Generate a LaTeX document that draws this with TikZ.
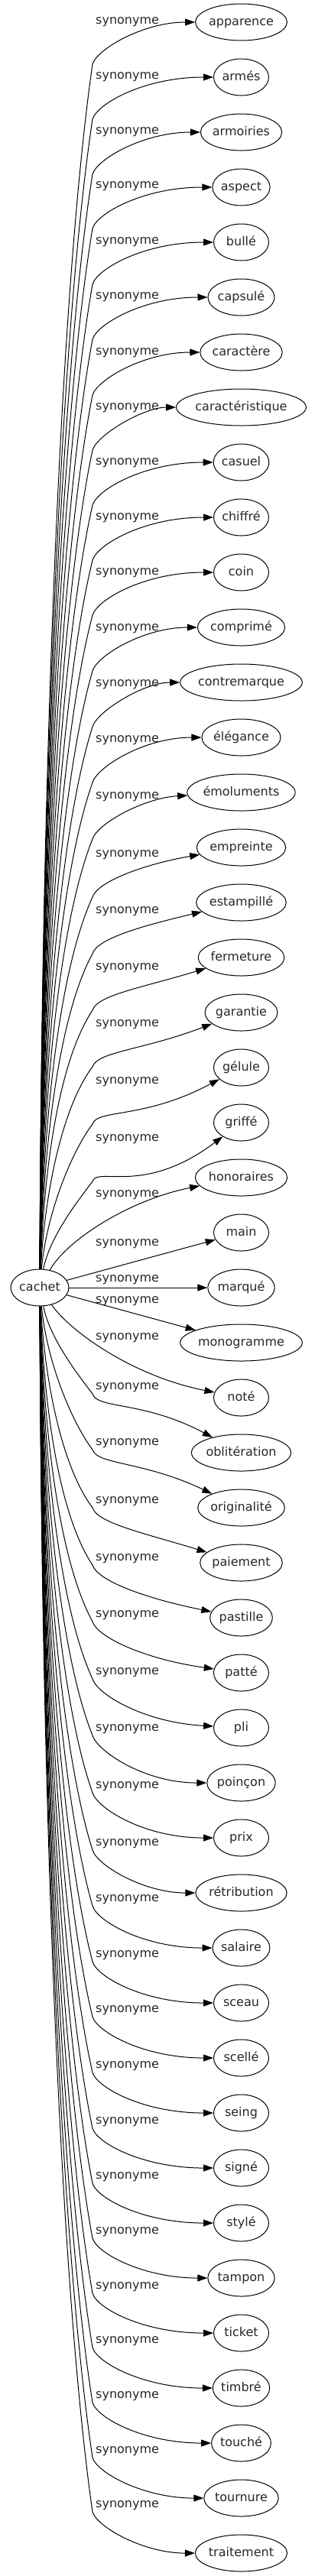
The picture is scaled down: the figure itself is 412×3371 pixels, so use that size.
\documentclass[tikz,border=0pt]{standalone}
\usepackage{fontspec}
\setmainfont{DejaVu Sans}
\usetikzlibrary{arrows.meta,shapes.geometric}
\definecolor{txt}{RGB}{40,40,40}
\newlength\mylen
\tikzset{
  tgt/.style={ellipse, draw=black, text=txt, line width=1pt, inner sep=0pt, minimum height=48pt,
    text height=12.3pt, text depth=3.7pt, font=\fontsize{16pt}{19pt}\selectfont},
  edge/.style={draw=black, line width=1pt, -{Triangle[length=13pt,width=9pt]}},
  lbl/.style={anchor=base west, inner sep=0pt, text=txt, font=\fontsize{16pt}{19pt}\selectfont},
}
\newcommand\mkT[4]{%
  \settowidth{\mylen}{\fontsize{16pt}{19pt}\selectfont #4}%
  \pgfmathsetmacro\myW{max(72,1.2*\mylen+33)}%
  \pgfmathsetmacro\myRx{\myW/2}%
  \expandafter\xdef\csname rx#1\endcsname{\myRx}%
  \node[tgt, minimum width=\myW pt] (#1) at (#2,#3) {#4};%
}
\newcommand\mkN[3]{%
  \pgfmathsetmacro\myYn{29+72*#2}%
  \mkT{#1}{315.5}{\myYn}{#3}%
}
\newcommand\mkTail[1]{%
  \edef\myRr{\csname rx#1\endcsname}%
  \pgfmathsetmacro\myXb{315.5-\myRr*sqrt(max(0,1-pow((\myTip-\myY)/24,2)))}%
  \pgfmathsetmacro\myF{(\myXb-188)/127.5}%
  \pgfmathsetmacro\myQy{(\myTip-\myF*\myY)/(1-\myF)}%
}
\newcommand\mkUp[3]{%
  \pgfmathsetmacro\myY{29+72*#2}%
  \pgfmathsetmacro\myCy{#3+56}%
  \pgfmathsetmacro\myD{1662-\myCy}%
  \pgfmathsetmacro\myPax{53+min(12,1500/\myD)}%
  \pgfmathsetmacro\myPay{1662-0.38*\myD}%
  \pgfmathsetmacro\myPbx{121-45*min(1,\myD/300)}%
  \pgfmathsetmacro\myPby{\myCy+0.2*\myD}%
  \pgfmathsetmacro\myTip{max(\myY,#3-3)}%
  \mkTail{#1}%
  \draw[edge] (cachet) .. controls (\myPax,\myPay) and (\myPbx,\myPby) .. (121,\myCy)
     .. controls (127,\myCy-20) and (188,\myQy) .. (#1);%
  \node[lbl] (l#1) at (125,#3+3) {synonyme};%
}
\newcommand\mkLo[3]{%
  \pgfmathsetmacro\myY{29+72*#2}%
  \pgfmathsetmacro\myCy{#3+9}%
  \pgfmathsetmacro\myD{\myCy-1708}%
  \pgfmathsetmacro\myPax{53+min(12,1500/\myD)}%
  \pgfmathsetmacro\myPay{1708+0.38*\myD}%
  \pgfmathsetmacro\myPbx{121-45*min(1,\myD/300)}%
  \pgfmathsetmacro\myPby{\myCy-0.2*\myD}%
  \pgfmathsetmacro\myTip{min(\myY,#3+71)}%
  \mkTail{#1}%
  \draw[edge] (cachet) .. controls (\myPax,\myPay) and (\myPbx,\myPby) .. (121,\myCy)
     .. controls (127,\myCy+20) and (188,\myQy) .. (#1);%
  \node[lbl] (l#1) at (125,#3+3) {synonyme};%
}
\begin{document}
\begin{tikzpicture}[x=1pt,y=-1pt]
\fill[white] (0,0) rectangle (412,3371);
\useasboundingbox (0,0) rectangle (412,3371);
\mkT{cachet}{52}{1685}{cachet}
\mkN{apparence}{0}{apparence}
\mkN{armes}{1}{armés}
\mkN{armoiries}{2}{armoiries}
\mkN{aspect}{3}{aspect}
\mkN{bulle}{4}{bullé}
\mkN{capsule}{5}{capsulé}
\mkN{caractere}{6}{caractère}
\mkN{caracteristique}{7}{caractéristique}
\mkN{casuel}{8}{casuel}
\mkN{chiffre}{9}{chiffré}
\mkN{coin}{10}{coin}
\mkN{comprime}{11}{comprimé}
\mkN{contremarque}{12}{contremarque}
\mkN{elegance}{13}{élégance}
\mkN{emoluments}{14}{émoluments}
\mkN{empreinte}{15}{empreinte}
\mkN{estampille}{16}{estampillé}
\mkN{fermeture}{17}{fermeture}
\mkN{garantie}{18}{garantie}
\mkN{gelule}{19}{gélule}
\mkN{griffe}{20}{griffé}
\mkN{honoraires}{21}{honoraires}
\mkN{main}{22}{main}
\mkN{marque}{23}{marqué}
\mkN{monogramme}{24}{monogramme}
\mkN{note}{25}{noté}
\mkN{obliteration}{26}{oblitération}
\mkN{originalite}{27}{originalité}
\mkN{paiement}{28}{paiement}
\mkN{pastille}{29}{pastille}
\mkN{patte}{30}{patté}
\mkN{pli}{31}{pli}
\mkN{poincon}{32}{poinçon}
\mkN{prix}{33}{prix}
\mkN{retribution}{34}{rétribution}
\mkN{salaire}{35}{salaire}
\mkN{sceau}{36}{sceau}
\mkN{scelle}{37}{scellé}
\mkN{seing}{38}{seing}
\mkN{signe}{39}{signé}
\mkN{stylenode}{40}{stylé}
\mkN{tampon}{41}{tampon}
\mkN{ticket}{42}{ticket}
\mkN{timbre}{43}{timbré}
\mkN{touche}{44}{touché}
\mkN{tournure}{45}{tournure}
\mkN{traitement}{46}{traitement}
% upper edges
\mkUp{apparence}{0}{28}
\mkUp{armes}{1}{100}
\mkUp{armoiries}{2}{172}
\mkUp{aspect}{3}{243}
\mkUp{bulle}{4}{316}
\mkUp{capsule}{5}{388}
\mkUp{caractere}{6}{461}
\mkUp{caracteristique}{7}{533}
\mkUp{casuel}{8}{605}
\mkUp{chiffre}{9}{677}
\mkUp{coin}{10}{749}
\mkUp{comprime}{11}{822}
\mkUp{contremarque}{12}{895}
\mkUp{elegance}{13}{968}
\mkUp{emoluments}{14}{1042}
\mkUp{empreinte}{15}{1118}
\mkUp{estampille}{16}{1192}
\mkUp{fermeture}{17}{1266}
\mkUp{garantie}{18}{1340}
\mkUp{gelule}{19}{1415}
\mkUp{griffe}{20}{1490}
% central edges
\draw[edge] (cachet) .. controls (88,1622) and (170,1570) .. (honoraires);
\node[lbl] (lhonoraires) at (125,1566) {synonyme};
\draw[edge] (cachet) -- (main);
\node[lbl] (lmain) at (125,1630) {synonyme};
\draw[edge] (cachet) -- (marque);
\node[lbl] (lmarque) at (125,1677) {synonyme};
\draw[edge] (cachet) -- (monogramme);
\node[lbl] (lmonogramme) at (125,1705) {synonyme};
\draw[edge] (cachet) .. controls (90,1740) and (170,1800) .. (note);
\node[lbl] (lnote) at (125,1753) {synonyme};
% lower edges
\mkLo{obliteration}{26}{1815}
\mkLo{originalite}{27}{1888}
\mkLo{paiement}{28}{1964}
\mkLo{pastille}{29}{2039}
\mkLo{patte}{30}{2113}
\mkLo{pli}{31}{2188}
\mkLo{poincon}{32}{2262}
\mkLo{prix}{33}{2337}
\mkLo{retribution}{34}{2412}
\mkLo{salaire}{35}{2485}
\mkLo{sceau}{36}{2558}
\mkLo{scelle}{37}{2630}
\mkLo{seing}{38}{2703}
\mkLo{signe}{39}{2776}
\mkLo{stylenode}{40}{2848}
\mkLo{tampon}{41}{2920}
\mkLo{ticket}{42}{2992}
\mkLo{timbre}{43}{3063}
\mkLo{touche}{44}{3135}
\mkLo{tournure}{45}{3207}
\mkLo{traitement}{46}{3278}
\end{tikzpicture}
\end{document}
